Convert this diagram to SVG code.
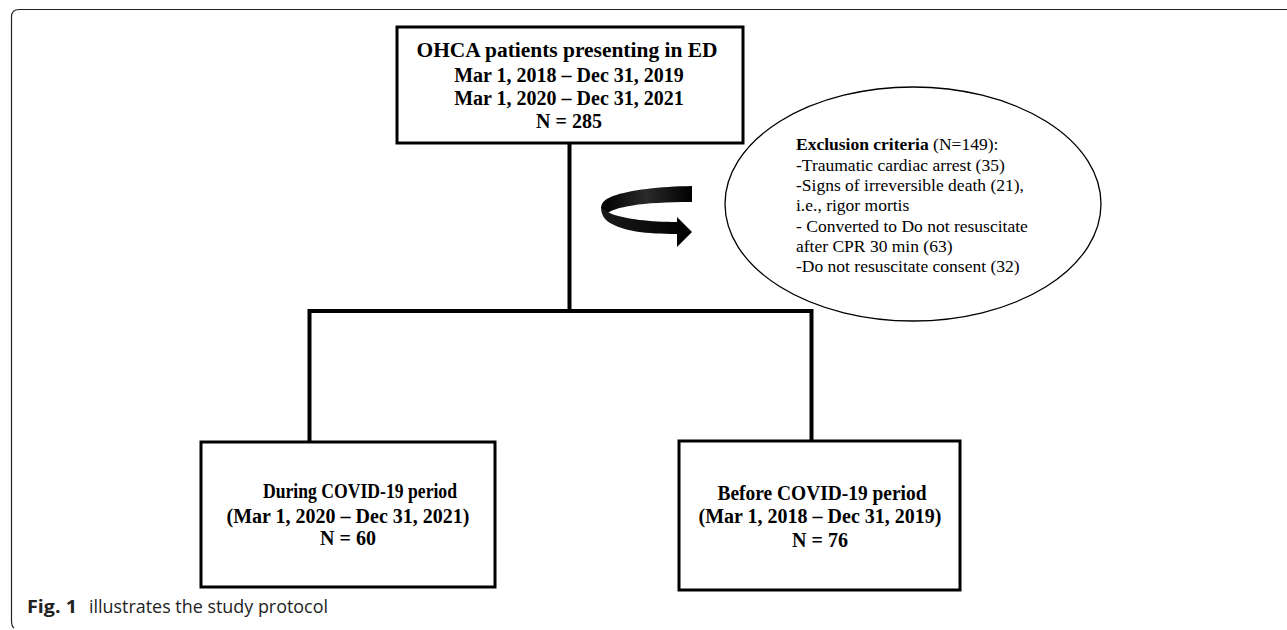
<svg xmlns="http://www.w3.org/2000/svg" width="1287" height="630" viewBox="0 0 1287 630">
  <style>
    .box { fill: #ffffff; stroke: #000000; stroke-width: 3; }
    .conn { fill: none; stroke: #000000; stroke-width: 4; stroke-linecap: square; }
    .bt { font-family: "Liberation Serif", "Times New Roman", serif; font-weight: bold; font-size: 20px; fill: #000; text-anchor: middle; }
    .et { font-family: "Liberation Serif", "Times New Roman", serif; font-size: 17.5px; fill: #000; }
    .cap { font-family: "Open Sans", "Noto Sans", sans-serif; font-size: 17.5px; fill: #222; }
  </style>
  <defs>
    <linearGradient id="backGrad" x1="0" y1="0" x2="1" y2="0">
      <stop offset="0" stop-color="#000000"/>
      <stop offset="0.5" stop-color="#2a2a2a"/>
      <stop offset="1" stop-color="#000000"/>
    </linearGradient>
    <linearGradient id="frontGrad" x1="0" y1="0" x2="1" y2="0">
      <stop offset="0" stop-color="#1a1a1a"/>
      <stop offset="1" stop-color="#000000"/>
    </linearGradient>
  </defs>
  <rect width="1287" height="630" fill="#ffffff"/>

  <!-- frame -->
  <path d="M1287,9.5 L19,9.5 Q11.5,9.5 11.5,17 L11.5,621 Q11.5,626 14,628" fill="none" stroke="#222" stroke-width="1.2"/>

  <!-- connectors -->
  <g id="connectors">
    <line class="conn" x1="569.5" y1="144" x2="569.5" y2="311"/>
    <polyline class="conn" points="309.5,441 309.5,311 811.5,311 811.5,441"/>
    <g id="curved-arrow">
      <path d="M692,186 C660,186.5 630,190 613,196 C605,199 601,203 601,208 L606,214 C615,207 640,202 692,202 Z" fill="url(#backGrad)"/>
      <path d="M601,207 C601,214 604,220 612,224 C625,231 645,234 677,234 L677,247 L692,232 L677,217 L677,222 C650,222 625,219 612,214 C606,211 603,209 601,207 Z" fill="url(#frontGrad)"/>
    </g>
  </g>

  <!-- top node -->
  <g id="node-ohca">
    <rect class="box" x="397" y="27" width="346" height="116"/>
    <text class="bt" x="567" y="57" textLength="301" lengthAdjust="spacingAndGlyphs" font-size="22">OHCA patients presenting in ED</text>
    <text class="bt" x="569" y="82">Mar 1, 2018 – Dec 31, 2019</text>
    <text class="bt" x="569" y="105">Mar 1, 2020 – Dec 31, 2021</text>
    <text class="bt" x="569" y="128">N = 285</text>
  </g>

  <!-- exclusion ellipse -->
  <g id="node-exclusion">
    <ellipse cx="913" cy="204" rx="188" ry="117" fill="#ffffff" stroke="#000" stroke-width="1.3"/>
    <text class="et" x="796" y="150"><tspan font-weight="bold">Exclusion criteria</tspan> (N=149):</text>
    <text class="et" x="796" y="171">-Traumatic cardiac arrest (35)</text>
    <text class="et" x="796" y="191">-Signs of irreversible death (21),</text>
    <text class="et" x="796" y="211">i.e., rigor mortis</text>
    <text class="et" x="796" y="232">- Converted to Do not resuscitate</text>
    <text class="et" x="796" y="252">after CPR 30 min (63)</text>
    <text class="et" x="796" y="272">-Do not resuscitate consent (32)</text>
  </g>

  <!-- bottom left node -->
  <g id="node-during">
    <rect class="box" x="201" y="442" width="294" height="145"/>
    <text class="bt" x="360" y="498" font-size="19" textLength="194" lengthAdjust="spacingAndGlyphs">During COVID-19 period</text>
    <text class="bt" x="348" y="523">(Mar 1, 2020 – Dec 31, 2021)</text>
    <text class="bt" x="348" y="545">N = 60</text>
  </g>

  <!-- bottom right node -->
  <g id="node-before">
    <rect class="box" x="679" y="441" width="281" height="149"/>
    <text class="bt" x="822" y="500" font-size="19.5" textLength="209" lengthAdjust="spacingAndGlyphs">Before COVID-19 period</text>
    <text class="bt" x="820" y="523">(Mar 1, 2018 – Dec 31, 2019)</text>
    <text class="bt" x="820" y="547">N = 76</text>
  </g>

  <!-- caption -->
  <text class="cap" x="27" y="613"><tspan font-weight="bold" textLength="50" lengthAdjust="spacingAndGlyphs">Fig. 1</tspan><tspan x="89" textLength="239" lengthAdjust="spacingAndGlyphs">illustrates the study protocol</tspan></text>
</svg>
